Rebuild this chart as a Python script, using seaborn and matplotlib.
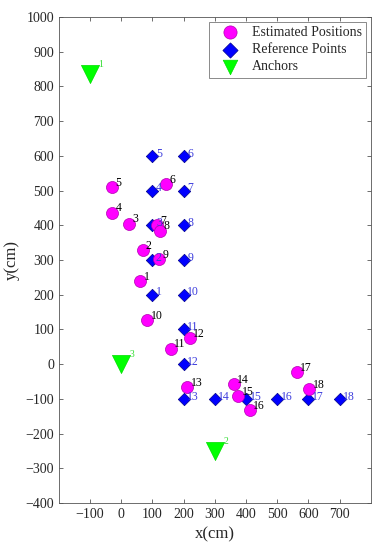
import pandas as pd
import matplotlib
matplotlib.use("Agg")
import matplotlib.pyplot as plt
import seaborn as sns

# estimated positions (cm)
est_x = [61, 68, 25, -30, -30, 143, 115, 125, 120, 83, 158, 220, 211, 361, 375, 412, 562, 602]
est_y = [239, 328, 405, 436, 509, 518, 400, 385, 302, 127, 45, 75, -67, -58, -93, -132, -24, -73]

# reference points (cm)
ref_x = [100, 100, 100, 100, 100, 200, 200, 200, 200, 200, 200, 200, 200, 300, 400, 500, 600, 700]
ref_y = [200, 300, 400, 500, 600, 600, 500, 400, 300, 200, 100, 0, -100, -100, -100, -100, -100, -100]

# anchors (cm)
anc_x = [-100, 300, 0]
anc_y = [835, -250, 0]

labels = [str(i) for i in range(1, 19)]
anc_labels = ["1", "2", "3"]

est = pd.DataFrame({"x": est_x, "y": est_y, "lab": labels})
ref = pd.DataFrame({"x": ref_x, "y": ref_y, "lab": labels})
anc = pd.DataFrame({"x": anc_x, "y": anc_y, "lab": anc_labels})

sns.set_style("ticks")
plt.rcParams["font.family"] = ["Liberation Serif", "DejaVu Serif"]
plt.rcParams["xtick.direction"] = "in"
plt.rcParams["ytick.direction"] = "in"

fig = plt.figure(figsize=(3.8, 5.5), dpi=100)
ax = fig.add_axes([0.155, 0.0855, 0.821, 0.8835])

sns.scatterplot(data=ref, x="x", y="y", ax=ax, marker="D", s=40, color="#0000ff",
                edgecolor="#00008b", linewidth=0.5, label="Reference Points", zorder=2)
sns.scatterplot(data=est, x="x", y="y", ax=ax, marker="o", s=75, color="#ff00ff",
                edgecolor="#b000b0", linewidth=0.5, label="Estimated Positions", zorder=3)
sns.scatterplot(data=anc, x="x", y="y", ax=ax, marker="v", s=170, color="#00ff00",
                edgecolor="#00dd00", linewidth=0.5, label="Anchors", zorder=2)

for _, r in ref.iterrows():
    ax.annotate(r["lab"], (r["x"], r["y"]), xytext=(2.5, -0.5), textcoords="offset points",
                fontsize=8.5, color="#3d3ddd", zorder=5)
for _, r in est.iterrows():
    ax.annotate(r["lab"], (r["x"], r["y"]), xytext=(2.5, 1), textcoords="offset points",
                fontsize=8.5, color="black", zorder=5)
for _, r in anc.iterrows():
    ax.annotate(r["lab"], (r["x"], r["y"]), xytext=(6, 5), textcoords="offset points",
                fontsize=7, color="#33dd33", zorder=5)

ax.set_xlim(-200, 800)
ax.set_ylim(-400, 1000)
ax.set_xticks(range(-100, 800, 100))
ax.set_yticks(range(-400, 1100, 100))
ax.tick_params(top=True, right=True, labelsize=10, length=3, width=0.6, color="#555555")
for s in ax.spines.values():
    s.set_linewidth(0.6)
    s.set_color("#555555")
ax.set_xlabel("x(cm)", fontsize=12)
ax.set_ylabel("y(cm)", fontsize=12)

handles, texts = ax.get_legend_handles_labels()
order = [texts.index(t) for t in ["Estimated Positions", "Reference Points", "Anchors"]]
leg = ax.legend([handles[i] for i in order], [texts[i] for i in order],
                loc="upper right", fontsize=10, frameon=True, fancybox=False,
                edgecolor="#555555", borderpad=0.3, labelspacing=0.3, handletextpad=0.4,
                handlelength=2.4, borderaxespad=0.35)
leg.get_frame().set_linewidth(0.6)
for h, sz in zip(leg.legend_handles, [90, 60, 110]):
    h.set_sizes([sz])

fig.savefig("out.png", dpi=100)
